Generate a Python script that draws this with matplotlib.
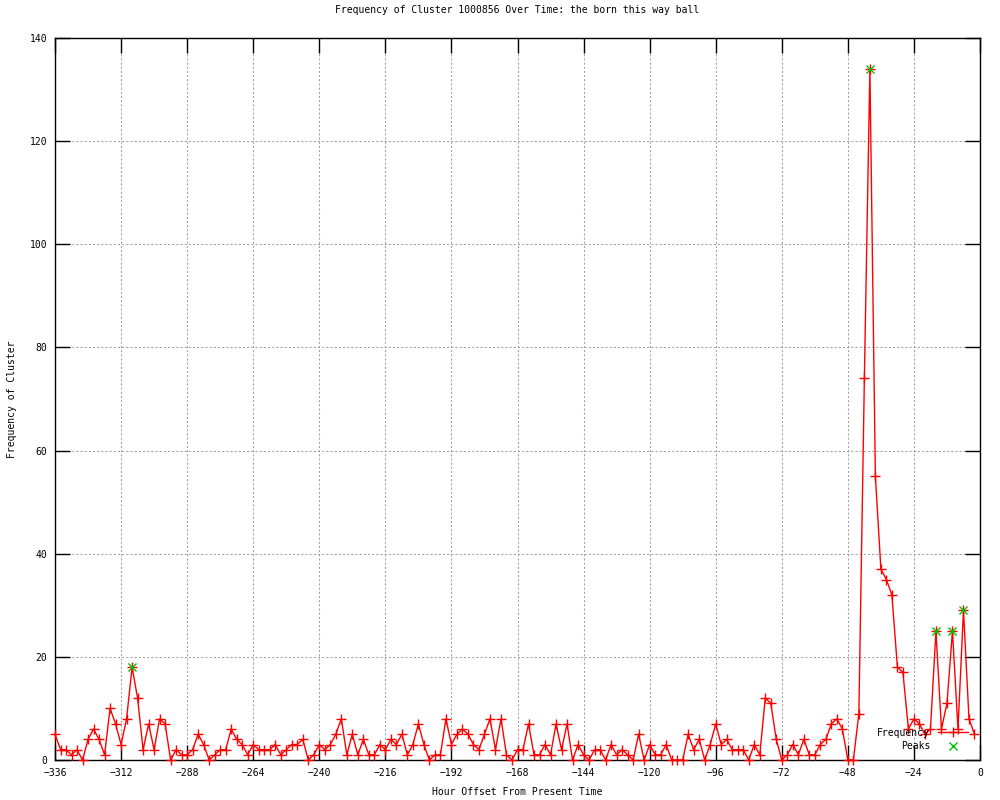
import matplotlib
matplotlib.use("Agg")
import matplotlib.pyplot as plt
from matplotlib.lines import Line2D

hours = list(range(-336, 0, 2))
frequency = [
    5, 2, 2, 1, 2, 0, 4, 6, 4, 1, 10, 7, 3, 8, 18, 12, 2, 7, 2, 8,
    7, 0, 2, 1, 1, 2, 5, 3, 0, 1, 2, 2, 6, 4, 3, 1, 3, 2, 2, 2,
    3, 1, 2, 3, 3, 4, 0, 1, 3, 2, 3, 5, 8, 1, 5, 1, 4, 1, 1, 3,
    2, 4, 3, 5, 1, 3, 7, 3, 0, 1, 1, 8, 3, 5, 6, 5, 3, 2, 5, 8,
    2, 8, 1, 0, 2, 2, 7, 1, 1, 3, 1, 7, 2, 7, 0, 3, 1, 0, 2, 2,
    0, 3, 1, 2, 1, 0, 5, 0, 3, 1, 1, 3, 0, 0, 0, 5, 2, 4, 0, 3,
    7, 3, 4, 2, 2, 2, 0, 3, 1, 12, 11, 4, 0, 1, 3, 1, 4, 1, 1, 3,
    4, 7, 8, 6, 0, 0, 9, 74, 134, 55, 37, 35, 32, 18, 17, 6, 8, 7, 5, 6,
    25, 6, 11, 25, 6, 29, 8, 5,
]
peak_hours = [-308, -40, -16, -10, -6]
peak_values = [18, 134, 25, 25, 29]

x_ticks = list(range(-336, 1, 24))
y_ticks = list(range(0, 141, 20))

title = "Frequency of Cluster 1000856 Over Time: the born this way ball"
x_label = "Hour Offset From Present Time"
y_label = "Frequency of Cluster"

FONT = "DejaVu Sans Mono"
FS = 7

fig = plt.figure(figsize=(10, 8), dpi=100)
ax = fig.add_axes([0.055, 0.05, 0.925, 0.9025])

ax.plot(hours, frequency, color="#ff0000", lw=1.0, marker="+", ms=7,
        mew=1.0, clip_on=False, zorder=3, label="Frequency")
ax.plot(peak_hours, peak_values, linestyle="none", color="#00c000",
        marker="x", ms=5.5, mew=1.0, clip_on=False, zorder=4, label="Peaks")

ax.set_xlim(-336, 0)
ax.set_ylim(0, 140)
ax.set_xticks(x_ticks)
ax.set_yticks(y_ticks)
ax.tick_params(direction="in", length=11, width=1.0, top=True, right=True,
               labelsize=FS, pad=5.5, color="black")
for lab in ax.get_xticklabels() + ax.get_yticklabels():
    lab.set_family(FONT)

ax.grid(True, color="#a0a0a0", linestyle=(0, (2, 2)), lw=0.75)
ax.set_axisbelow(True)
for s in ax.spines.values():
    s.set_linewidth(1.0)
    s.set_color("black")

ax.set_title(title, fontsize=FS, family=FONT, y=1.0277, va="center")
ax.set_xlabel(x_label, fontsize=FS, family=FONT)
ax.xaxis.label.set_va("center")
ax.xaxis.set_label_coords(0.5, -0.0443)
ax.set_ylabel(y_label, fontsize=FS, family=FONT)
ax.yaxis.label.set_va("center")
ax.yaxis.set_label_coords(-0.0465, 0.5)

handles = [
    Line2D([], [], color="#ff0000", lw=1.0, marker="+", ms=7, mew=1.0),
    Line2D([], [], color="#00c000", linestyle="none", marker="x", ms=5.5, mew=1.0),
]
leg = ax.legend(handles, ["Frequency", "Peaks"], loc="lower right",
                bbox_to_anchor=(0.973, 1 - 756 / 800), bbox_transform=fig.transFigure,
                frameon=False, markerfirst=False, handlelength=3.1,
                handletextpad=0.8, labelspacing=0.35, borderpad=0,
                prop={"family": FONT, "size": FS})
leg.set_zorder(5)

fig.savefig("out.png", dpi=100)
